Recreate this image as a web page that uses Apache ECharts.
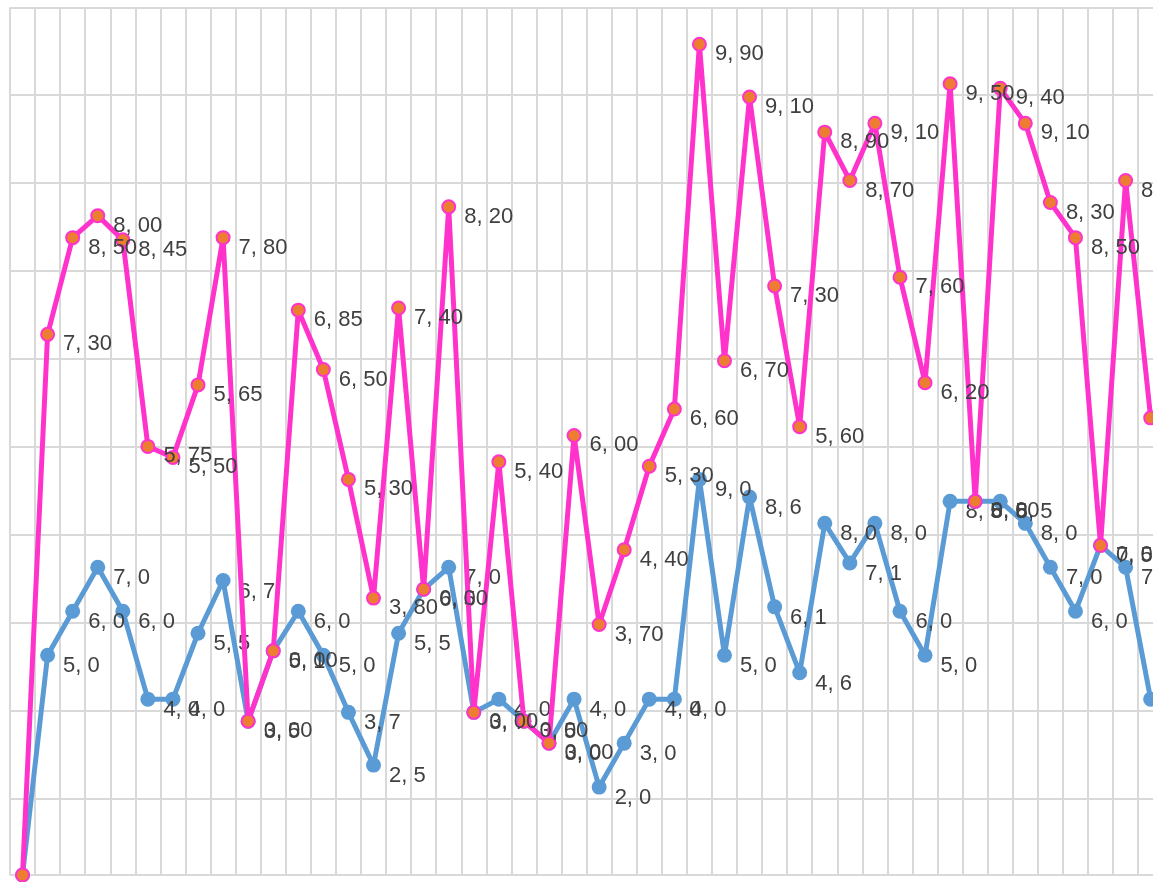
<!DOCTYPE html>
<html>
<head>
<meta charset="utf-8">
<script src="https://cdn.jsdelivr.net/npm/echarts@6/dist/echarts.min.js"></script>
<style>
html,body{margin:0;padding:0;overflow:hidden;background:#ffffff;width:1153px;height:882px;}
#chart{width:1200px;height:882px;}
</style>
</head>
<body>
<div id="chart"></div>
<script>
// Categories (no tick labels are visible in the picture)
const categories = ['1','2','3','4','5','6','7','8','9','10','11','12','13','14','15','16','17','18','19','20','21','22','23','24','25','26','27','28','29','30','31','32','33','34','35','36','37','38','39','40','41','42','43','44','45','46'];

// Lower (blue) series values
const blueValues = [0, 5.0, 6.0, 7.0, 6.0, 4.0, 4.0, 5.5, 6.7, 3.5, 5.1, 6.0, 5.0, 3.7, 2.5, 5.5, 6.5, 7.0, 3.7, 4.0, 3.5, 3.0, 4.0, 2.0, 3.0, 4.0, 4.0, 9.0, 5.0, 8.6, 6.1, 4.6, 8.0, 7.1, 8.0, 6.0, 5.0, 8.5, 8.5, 8.5, 8.0, 7.0, 6.0, 7.5, 7.0, 4.0];

// Upper (pink) series values, stacked on top of the blue series
const pinkValues = [0, 7.30, 8.50, 8.00, 8.45, 5.75, 5.50, 5.65, 7.80, 0, 0, 6.85, 6.50, 5.30, 3.80, 7.40, 0, 8.20, 0, 5.40, 0, 0, 6.00, 3.70, 4.40, 5.30, 6.60, 9.90, 6.70, 9.10, 7.30, 5.60, 8.90, 8.70, 9.10, 7.60, 6.20, 9.50, 0, 9.40, 9.10, 8.30, 8.50, 0, 8.80, 6.40];

const chart = echarts.init(document.getElementById('chart'), null, {renderer: 'canvas'});

const gridColor = '#d9d9d9';
const labelFont = {
  fontFamily: '"Liberation Sans", Arial, sans-serif',
  fontSize: 22,
  color: '#404040'
};

const option = {
  animation: false,
  backgroundColor: '#ffffff',
  grid: {left: 10, top: 7.3, width: 1153.2, height: 867.7, containLabel: false},
  xAxis: {
    type: 'category',
    data: categories,
    boundaryGap: true,
    axisLine: {show: false},
    axisTick: {show: false},
    axisLabel: {show: false},
    splitLine: {show: true, interval: 0, lineStyle: {color: gridColor, width: 2}}
  },
  yAxis: [
    {
      type: 'value',
      min: 0,
      max: 19.74,
      axisLine: {show: false},
      axisTick: {show: false},
      axisLabel: {show: false},
      splitLine: {show: false}
    },
    {
      type: 'value',
      position: 'left',
      min: 0.26,
      max: 20,
      splitNumber: 10,
      axisLine: {show: false},
      axisTick: {show: false},
      axisLabel: {show: false},
      splitLine: {show: true, lineStyle: {color: gridColor, width: 2}}
    }
  ],
  series: [
    {
      name: 'blue',
      type: 'line',
      stack: 'total',
      yAxisIndex: 0,
      data: blueValues,
      symbol: 'circle',
      symbolSize: 15,
      lineStyle: {color: '#5B9BD5', width: 5},
      itemStyle: {color: '#5B9BD5'},
      label: Object.assign({
        show: true,
        position: 'right',
        distance: 5,
        offset: [3, 11],
        formatter: p => p.dataIndex === 0 ? '' : p.value.toFixed(1).replace('.', ', ')
      }, labelFont),
      z: 2
    },
    {
      name: 'pink',
      type: 'line',
      stack: 'total',
      yAxisIndex: 0,
      data: pinkValues,
      symbol: 'circle',
      symbolSize: 13,
      lineStyle: {color: '#FF33CC', width: 5},
      itemStyle: {color: '#ED7D31', borderColor: '#FF33CC', borderWidth: 2},
      label: Object.assign({
        show: true,
        position: 'right',
        distance: 5,
        offset: [3, 10],
        formatter: p => p.dataIndex === 0 ? '' : p.value.toFixed(2).replace('.', ', ')
      }, labelFont),
      z: 3
    }
  ]
};

chart.setOption(option);
</script>
</body>
</html>
